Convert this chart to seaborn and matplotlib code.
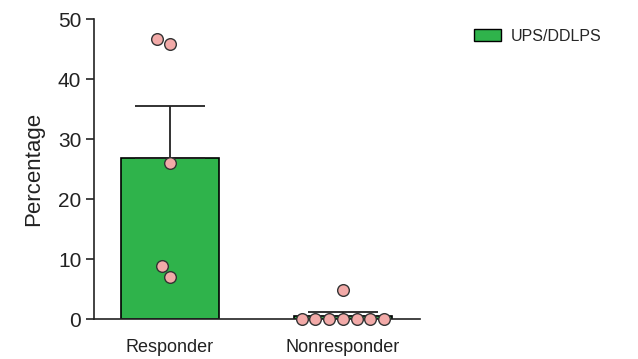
import matplotlib
matplotlib.use("Agg")
import matplotlib.pyplot as plt
from matplotlib.patches import Patch
import numpy as np
import pandas as pd
import seaborn as sns

# datos
groups = ["Responder", "Nonresponder"]
responder = [46.7, 45.8, 26.0, 8.8, 7.0]
nonresponder = [4.8, 0, 0, 0, 0, 0, 0, 0]
legend_label = "UPS/DDLPS"

df = pd.DataFrame({
    "group": [groups[0]] * len(responder) + [groups[1]] * len(nonresponder),
    "value": responder + nonresponder,
})
stats = df.groupby("group", sort=False)["value"].agg(["mean", "sem"]).reindex(groups)

sns.set_style("ticks")
plt.rcParams["font.family"] = ["Liberation Sans", "DejaVu Sans"]

fig = plt.figure(figsize=(6.38, 3.59), dpi=100)
ax = fig.add_axes([0.147, 0.111, 0.511, 0.836])

green = "#2fb34b"
sns.barplot(data=df, x="group", y="value", order=groups, errorbar=None,
            color=green, edgecolor="black", linewidth=1.2, width=0.57,
            saturation=1, ax=ax)

# error bar solo hacia arriba (media + SEM)
ax.errorbar(np.arange(len(groups)), stats["mean"], yerr=[np.zeros(len(groups)), stats["sem"]],
            fmt="none", ecolor="#222222", elinewidth=1.3, capsize=25, capthick=1.3, zorder=3)

sns.swarmplot(data=df, x="group", y="value", order=groups, color="#f2aaa8",
              edgecolor="#333333", linewidth=1, size=8.4, ax=ax, zorder=4)
for c in ax.collections:
    c.set_clip_on(False)

ax.set_xlim(-0.44, 1.445)
ax.set_ylim(0, 50)
ax.set_yticks([0, 10, 20, 30, 40, 50])
ax.tick_params(axis="y", labelsize=15, length=6, width=1.2, colors="#222222", pad=3)
ax.tick_params(axis="x", labelsize=13, length=0, pad=14, colors="#222222")
ax.set_xlabel("")
ax.set_ylabel("Percentage", fontsize=16, color="#222222", labelpad=10)
sns.despine(ax=ax)
for s in ["left", "bottom"]:
    ax.spines[s].set_linewidth(1.2)
    ax.spines[s].set_color("#222222")

handles = [Patch(facecolor=green, edgecolor="black", linewidth=1, label=legend_label)]
fig.legend(handles=handles, loc="upper left", bbox_to_anchor=(0.72, 0.96), frameon=False,
           fontsize=11.5, handlelength=1.7, handleheight=0.8, handletextpad=0.6)

fig.savefig("out.png", dpi=100)
